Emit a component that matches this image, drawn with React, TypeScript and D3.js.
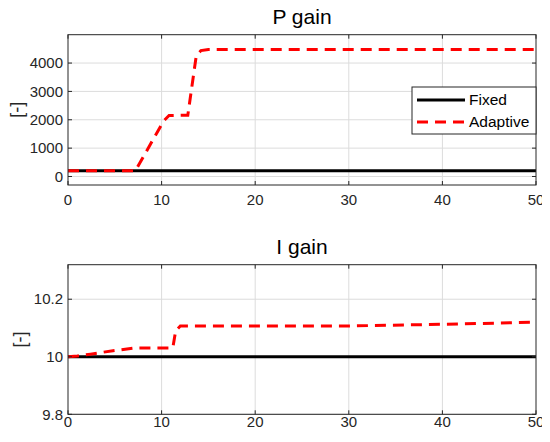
import { useEffect, useRef } from 'react';
import * as d3 from 'd3';

// P gain
const pFixed = [[0, 200], [50, 200]];
const pAdaptive = [
  [0, 200], [7.2, 200], [10.2, 1950], [10.8, 2150], [12.8, 2160],
  [13.7, 4250], [14.2, 4440], [15, 4480], [50, 4480]
];
const pTicks = [0, 1000, 2000, 3000, 4000];

// I gain
const iFixed = [[0, 10], [50, 10]];
const iAdaptive = [
  [0, 10], [1, 10.003], [2.4, 10.009], [4.8, 10.021], [7, 10.03],
  [11.2, 10.031], [11.5, 10.09], [12, 10.107], [30, 10.107], [40, 10.113], [50, 10.12]
];
const iTicks = [9.8, 10, 10.2];

const xTicks = [0, 10, 20, 30, 40, 50];
const legendNames = ['Fixed', 'Adaptive'];

export default function App() {
  const ref = useRef(null);

  useEffect(() => {
    const svg = d3.select(ref.current);
    svg.selectAll('*').remove();
    const font = 'Liberation Sans, Arial, sans-serif';
    const axisCol = '#262626';

    const panel = (top, bottom, domain, yTicks, fixed, adaptive, title, legend, xLabOff, yLabX) => {
      const x = d3.scaleLinear().domain([0, 50]).range([68, 536]);
      const y = d3.scaleLinear().domain(domain).range([bottom, top]);
      const g = svg.append('g');

      // grid
      g.selectAll('.gx').data(xTicks.slice(1, -1)).enter().append('line')
        .attr('x1', d => x(d)).attr('x2', d => x(d))
        .attr('y1', top).attr('y2', bottom)
        .attr('stroke', '#dcdcdc').attr('stroke-width', 1);
      g.selectAll('.gy').data(yTicks).enter().append('line')
        .attr('x1', 68).attr('x2', 536)
        .attr('y1', d => y(d)).attr('y2', d => y(d))
        .attr('stroke', '#dcdcdc').attr('stroke-width', 1);

      const line = d3.line().x(d => x(d[0])).y(d => y(d[1]));
      g.append('path').attr('d', line(fixed))
        .attr('fill', 'none').attr('stroke', '#000').attr('stroke-width', 3);
      g.append('path').attr('d', line(adaptive))
        .attr('fill', 'none').attr('stroke', '#ff0000').attr('stroke-width', 3)
        .attr('stroke-dasharray', '11,7');

      // frame
      g.append('rect').attr('x', 68).attr('y', top)
        .attr('width', 536 - 68).attr('height', bottom - top)
        .attr('fill', 'none').attr('stroke', axisCol).attr('stroke-width', 1);

      // ticks (inside, mirrored)
      const tl = 4;
      g.selectAll('.tx').data(xTicks).enter().append('path')
        .attr('d', d => `M${x(d)},${bottom}v${-tl}M${x(d)},${top}v${tl}`)
        .attr('stroke', axisCol);
      g.selectAll('.ty').data(yTicks).enter().append('path')
        .attr('d', d => `M68,${y(d)}h${tl}M536,${y(d)}h${-tl}`)
        .attr('stroke', axisCol);

      g.selectAll('.lx').data(xTicks).enter().append('text')
        .attr('x', d => x(d)).attr('y', bottom + xLabOff)
        .attr('text-anchor', 'middle')
        .style('font-family', font).style('font-size', '15px').attr('fill', axisCol)
        .text(d => d);
      g.selectAll('.ly').data(yTicks).enter().append('text')
        .attr('x', 63).attr('y', d => y(d)).attr('dy', '0.35em')
        .attr('text-anchor', 'end')
        .style('font-family', font).style('font-size', '15px').attr('fill', axisCol)
        .text(d => d);

      g.append('text')
        .attr('transform', `translate(${yLabX},${(top + bottom) / 2}) rotate(-90)`)
        .attr('text-anchor', 'middle').attr('dy', '0.35em')
        .style('font-family', font).style('font-size', '18px').attr('fill', axisCol)
        .text('[-]');

      g.append('text').attr('x', (68 + 536) / 2).attr('y', top - 11)
        .attr('text-anchor', 'middle')
        .style('font-family', font).style('font-size', '21px').attr('fill', '#000')
        .text(title);

      if (legend) {
        const lg = g.append('g');
        lg.append('rect').attr('x', 412).attr('y', 87)
          .attr('width', 124).attr('height', 47)
          .attr('fill', '#fff').attr('stroke', axisCol).attr('stroke-width', 1);
        legendNames.forEach((name, i) => {
          const ly = 100 + i * 22;
          lg.append('line').attr('x1', 417).attr('x2', 465).attr('y1', ly).attr('y2', ly)
            .attr('stroke', i === 0 ? '#000' : '#ff0000').attr('stroke-width', 3)
            .attr('stroke-dasharray', i === 0 ? null : '11,7');
          lg.append('text').attr('x', 469).attr('y', ly).attr('dy', '0.35em')
            .style('font-family', font).style('font-size', '15.5px').attr('fill', '#000')
            .text(name);
        });
      }
    };

    panel(34.7, 185, [-300, 5000], pTicks, pFixed, pAdaptive, 'P gain', true, 20, 17);
    panel(264.7, 414.3, [9.8, 10.32], iTicks, iFixed, iAdaptive, 'I gain', false, 13, 20);
  }, []);

  return <svg ref={ref} width={550} height={442} style={{ display: 'block', margin: -8 }} />;
}
